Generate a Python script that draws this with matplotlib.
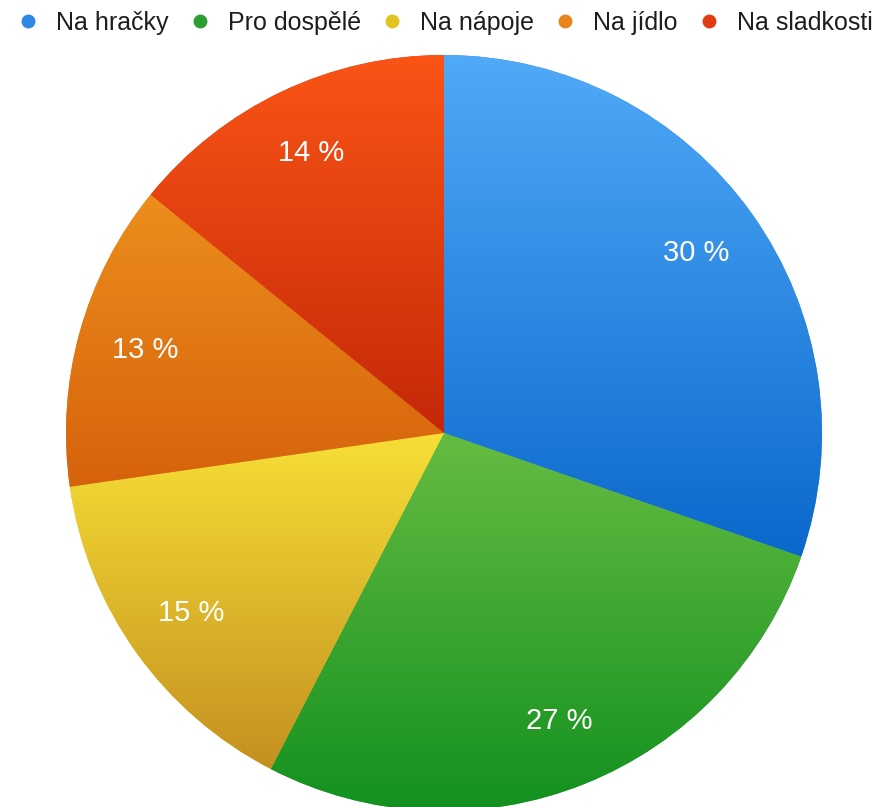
import matplotlib.pyplot as plt
from matplotlib.colors import LinearSegmentedColormap
from matplotlib.lines import Line2D
import numpy as np

plt.rcParams['font.family'] = ['Liberation Sans', 'DejaVu Sans']

labels = ['Na hračky', 'Pro dospělé', 'Na nápoje', 'Na jídlo', 'Na sladkosti']
shares = [30, 27, 15, 13, 14]
pct_text = ['30 %', '27 %', '15 %', '13 %', '14 %']

legend_cols = ['#2f88e6', '#2f9e32', '#e2c420', '#e8841a', '#e03c14']
# (dark at bottom, light at top) for each slice
grads = [('#0a68cc', '#50aaf8'),
         ('#12901f', '#66bc42'),
         ('#c39020', '#f7df36'),
         ('#d6620c', '#ec8e1c'),
         ('#c42808', '#fa5416')]

fig = plt.figure(figsize=(8.82, 8.07), dpi=100)
ax = fig.add_axes([0, 0, 1, 1])

wedges, texts = ax.pie(shares, labels=pct_text, colors=legend_cols,
                       startangle=90, counterclock=False,
                       center=(444, 374), radius=378, labeldistance=0.82,
                       frame=True, textprops=dict(color='white', fontsize=21))
ax.set_xlim(0, 882)
ax.set_ylim(0, 807)
ax.set_aspect('equal')
ax.axis('off')

for t in texts:
    t.set_ha('center')
    t.set_va('center')
    t.set_zorder(5)

# gradient fill inside each slice
for w, (dark, light) in zip(wedges, grads):
    v = w.get_path().vertices
    x0, x1 = v[:, 0].min(), v[:, 0].max()
    y0, y1 = v[:, 1].min(), v[:, 1].max()
    cmap = LinearSegmentedColormap.from_list('g', [dark, light])
    g = np.linspace(0, 1, 256).reshape(-1, 1)
    im = ax.imshow(g, extent=[x0, x1, y0, y1], origin='lower', cmap=cmap,
                   aspect='auto', zorder=2, interpolation='bilinear')
    im.set_clip_path(w)

ax.set_xlim(0, 882)
ax.set_ylim(0, 807)

handles = [Line2D([], [], marker='o', linestyle='none', markersize=9,
                  markerfacecolor=c, markeredgecolor=c) for c in legend_cols]
fig.legend(handles, labels, loc='center', bbox_to_anchor=(0.505, 0.972),
           ncol=5, frameon=False, fontsize=18, handlelength=0.8,
           handletextpad=0.72, columnspacing=0.85, labelcolor='#1e1e1e')

fig.savefig('out.png', dpi=100)
